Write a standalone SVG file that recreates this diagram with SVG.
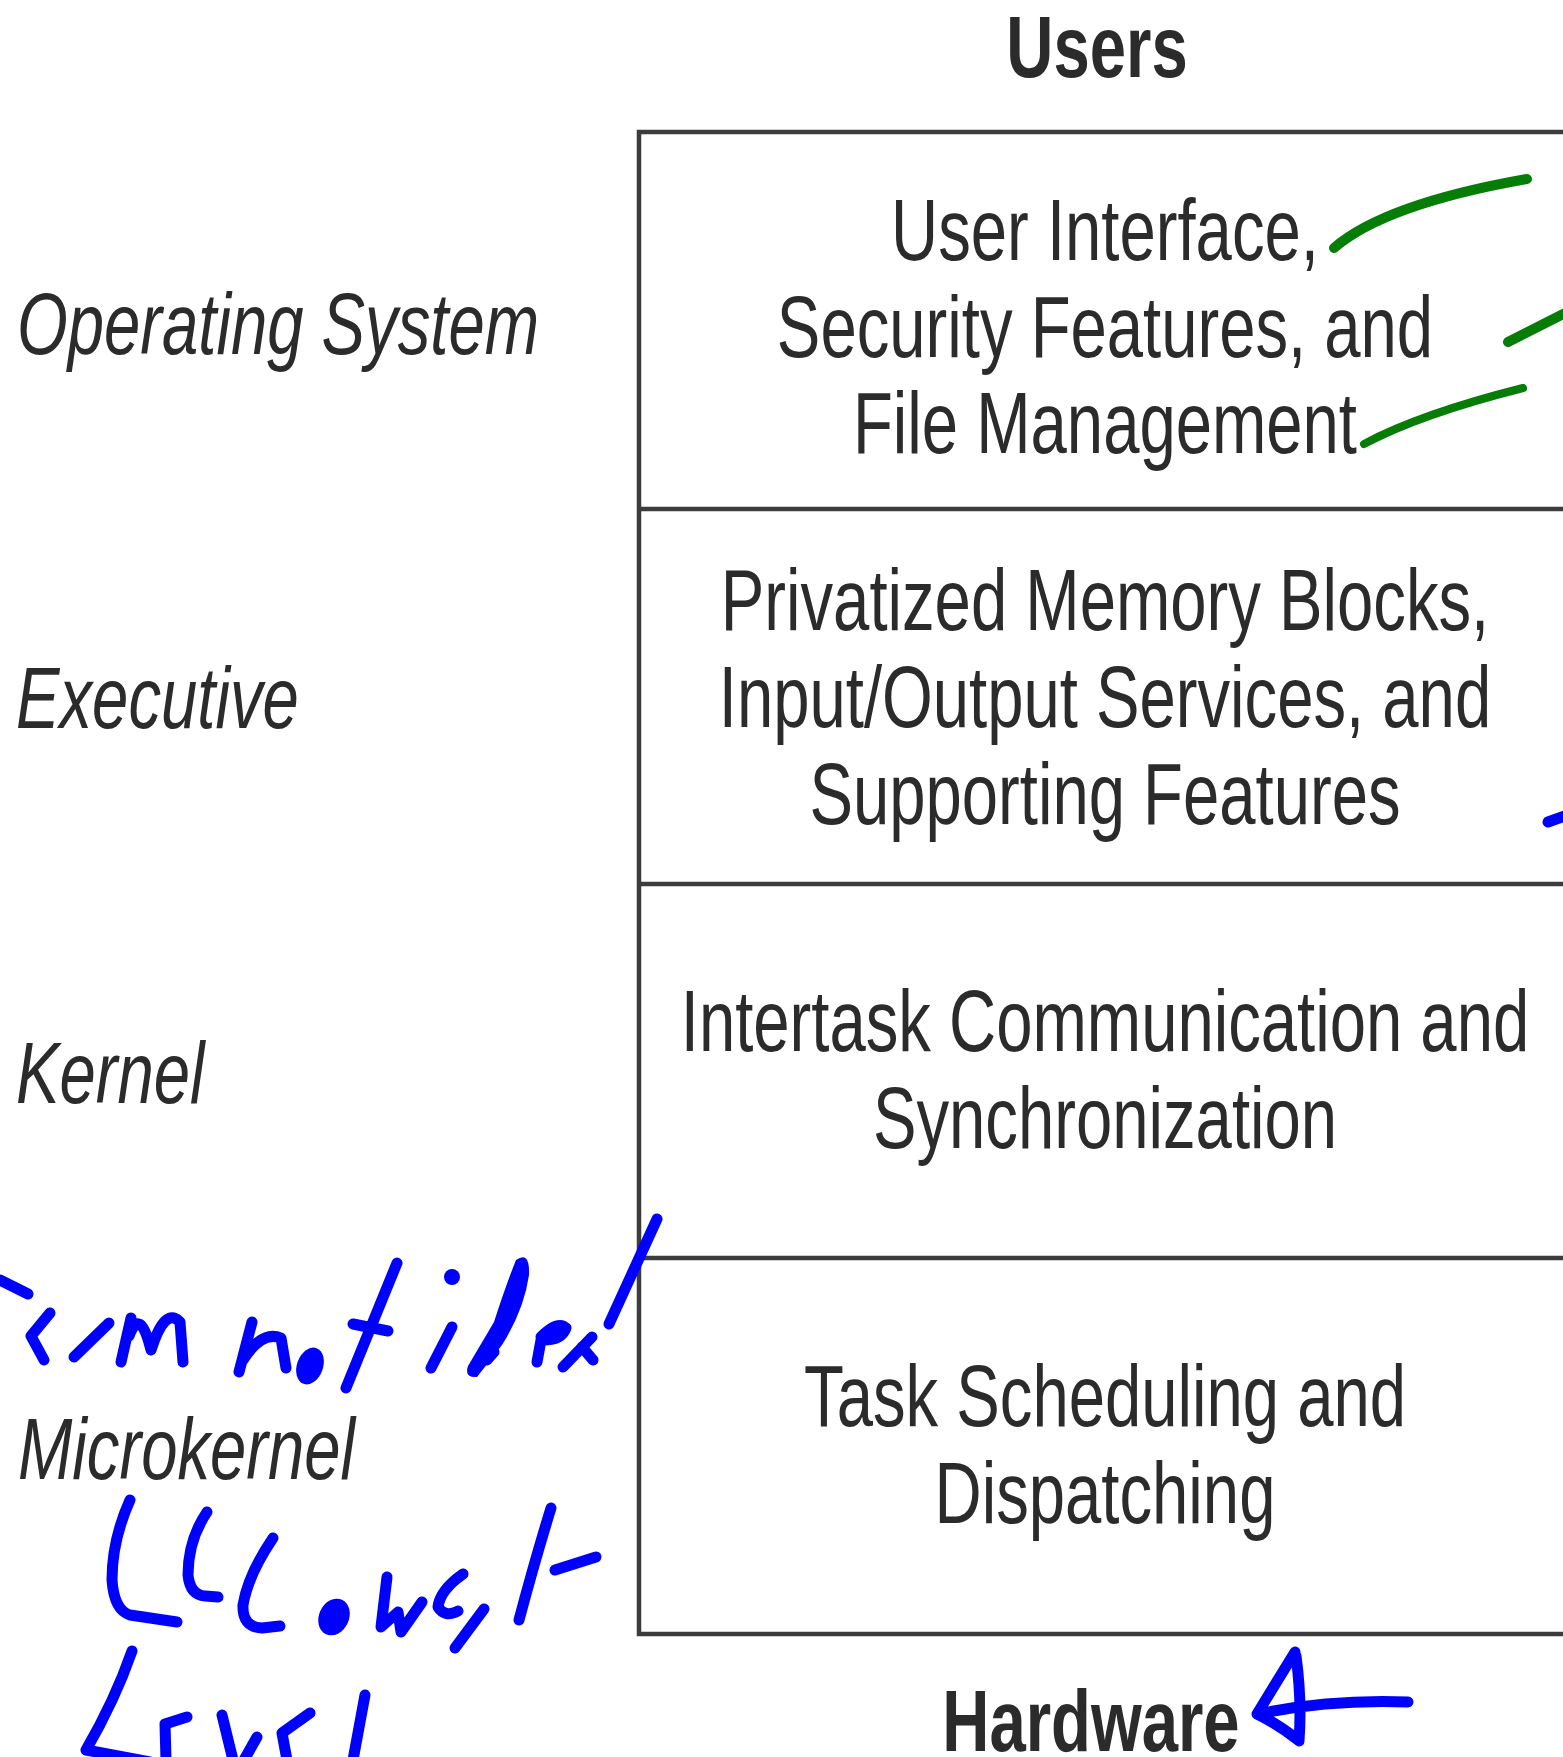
<svg xmlns="http://www.w3.org/2000/svg" width="1563" height="1757" viewBox="0 0 1563 1757">
  <style>
    .lbl { font-family: "Liberation Sans", Arial, sans-serif; font-size: 87px; fill: #2b2b2b; }
    .it { font-style: italic; }
    .bd { font-weight: bold; }
    .box { fill: #ffffff; stroke: #3c3c3c; stroke-width: 4.5; }
    .div { stroke: #3c3c3c; stroke-width: 4.5; }
    .green { fill: none; stroke: #067d06; stroke-linecap: round; stroke-linejoin: round; }
    .blue { fill: none; stroke: #0000ff; stroke-width: 11; stroke-linecap: round; stroke-linejoin: round; }
    .blueFill { fill: #0000ff; }
  </style>

  <rect x="0" y="0" width="1563" height="1757" fill="#ffffff"/>

  <!-- top and bottom captions -->
  <g id="users">
    <text class="lbl bd" transform="translate(1097,77) scale(0.75,1)" text-anchor="middle">Users</text>
  </g>
  <g id="hardware">
    <text class="lbl bd" transform="translate(1091,1751) scale(0.75,1)" text-anchor="middle">Hardware</text>
  </g>

  <!-- layered stack: outer frame and layer dividers -->
  <g id="stack-frame">
    <rect class="box" x="639" y="132" width="960" height="1502"/>
    <line class="div" x1="639" y1="509" x2="1600" y2="509"/>
    <line class="div" x1="639" y1="884" x2="1600" y2="884"/>
    <line class="div" x1="639" y1="1258" x2="1600" y2="1258"/>
  </g>

  <!-- tspans are written back to back so no stray space shifts the centred lines -->
  <g id="layer-os">
    <text class="lbl" transform="translate(1105,0) scale(0.75,1)" text-anchor="middle"><tspan x="0" y="260">User Interface,</tspan><tspan x="0" y="357">Security Features, and</tspan><tspan x="0" y="453">File Management</tspan></text>
  </g>
  <g id="layer-executive">
    <text class="lbl" transform="translate(1105,0) scale(0.75,1)" text-anchor="middle"><tspan x="0" y="630">Privatized Memory Blocks,</tspan><tspan x="0" y="727">Input/Output Services, and</tspan><tspan x="0" y="824">Supporting Features</tspan></text>
  </g>
  <g id="layer-kernel">
    <text class="lbl" transform="translate(1105,0) scale(0.75,1)" text-anchor="middle"><tspan x="0" y="1051">Intertask Communication and</tspan><tspan x="0" y="1148">Synchronization</tspan></text>
  </g>
  <g id="layer-microkernel">
    <text class="lbl" transform="translate(1105,0) scale(0.75,1)" text-anchor="middle"><tspan x="0" y="1426">Task Scheduling and</tspan><tspan x="0" y="1523">Dispatching</tspan></text>
  </g>

  <!-- layer names on the left -->
  <g id="name-os">
    <text class="lbl it" transform="translate(17,354) scale(0.75,1)">Operating System</text>
  </g>
  <g id="name-executive">
    <text class="lbl it" transform="translate(16,728) scale(0.75,1)">Executive</text>
  </g>
  <g id="name-kernel">
    <text class="lbl it" transform="translate(16,1103) scale(0.75,1)">Kernel</text>
  </g>
  <g id="name-microkernel">
    <text class="lbl it" transform="translate(18,1479) scale(0.75,1)">Microkernel</text>
  </g>

  <g id="connectors"/>

  <!-- pen annotations -->
  <g id="ink">
    <!-- green tick strokes beside the top layer -->
    <path class="green" stroke-width="10" d="M1334,248 Q1385,204 1527,179"/>
    <path class="green" stroke-width="10" d="M1508,342 L1575,308"/>
    <path class="green" stroke-width="8" d="M1364,444 Q1420,414 1523,388"/>

    <!-- blue mark at right edge of executive layer -->
    <path class="blue" d="M1548,822 L1570,814"/>

    <!-- "term not ideal" -->
    <path class="blue" stroke-width="9" d="M0,1280 L28,1294"/>
    <path class="blue" d="M50,1313 L31,1336 L44,1360"/>
    <path class="blue" d="M74,1357 L109,1323"/>
    <path class="blue" d="M121,1362 L131,1318 M129,1336 Q140,1306 151,1350 Q165,1306 180,1322 L183,1362"/>
    <path class="blue" d="M252,1322 L239,1372 M243,1360 Q262,1330 281,1338 L286,1368"/>
    <ellipse class="blueFill" cx="310" cy="1366" rx="13" ry="19" transform="rotate(20 310 1366)"/>
    <path class="blue" d="M397,1263 L346,1388 M353,1324 L388,1331"/>
    <circle class="blueFill" cx="452" cy="1277" r="8"/>
    <path class="blue" d="M452,1327 L431,1368"/>
    <path class="blueFill" d="M516,1260 Q530,1250 529,1275 Q524,1310 502,1345 L477,1377 Q464,1378 468,1366 L494,1322 Q506,1285 516,1260 Z"/>
    <path class="blue" stroke-width="8" d="M487,1360 L494,1352"/>
    <path class="blue" d="M541,1337 Q558,1320 566,1328 Q561,1341 541,1340 L537,1362"/>
    <path class="blue" d="M592,1337 L563,1367 M582,1347 L593,1360"/>
    <path class="blue" stroke-width="12" d="M657,1219 L609,1324"/>

    <!-- "Lowest" -->
    <path class="blue" d="M130,1500 Q112,1540 112,1580 Q114,1610 130,1615 L177,1622"/>
    <path class="blue" d="M207,1512 Q188,1540 188,1575 Q190,1595 205,1596 L218,1597"/>
    <path class="blue" d="M273,1538 Q248,1575 243,1605 Q242,1627 262,1628 L280,1626"/>
    <ellipse class="blueFill" cx="334" cy="1617" rx="15" ry="19" transform="rotate(25 334 1617)"/>
    <path class="blue" d="M387,1577 L381,1627 L398,1612 L401,1632 L422,1602"/>
    <path class="blue" d="M463,1574 Q440,1590 438,1607 Q445,1618 458,1611"/>
    <path class="blue" d="M484,1609 L455,1648"/>
    <path class="blue" d="M551,1508 Q535,1560 519,1620"/>
    <path class="blue" stroke-width="9" d="M555,1570 L596,1557"/>

    <!-- "Level" -->
    <path class="blue" d="M132,1651 Q115,1700 86,1750 L150,1762"/>
    <path class="blue" d="M187,1717 L165,1724 L166,1760"/>
    <path class="blue" d="M222,1715 L233,1760 M257,1737 L244,1760"/>
    <path class="blue" d="M310,1713 L282,1733 L287,1760"/>
    <path class="blue" d="M365,1695 L353,1760"/>

    <!-- arrow pointing at Hardware -->
    <path class="blue" d="M1295,1652 L1257,1714 Q1278,1724 1298,1740 M1296,1656 Q1302,1700 1299,1741 M1258,1714 Q1330,1699 1408,1702"/>
  </g>
</svg>
